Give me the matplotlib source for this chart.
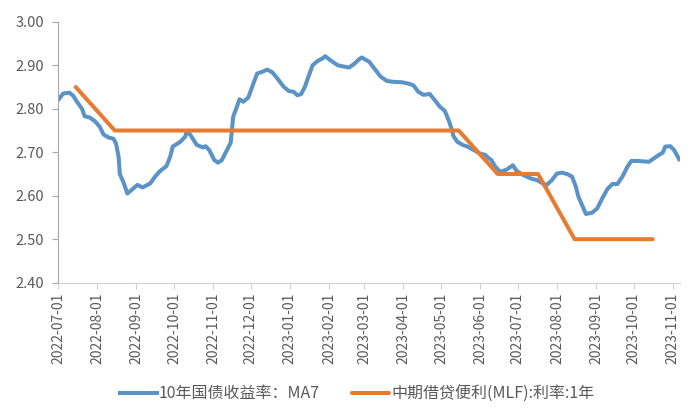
import matplotlib
matplotlib.use("Agg")
import matplotlib.pyplot as plt
import matplotlib.dates as mdates
import pandas as pd

plt.rcParams['font.family'] = ['Noto Sans CJK SC', 'DejaVu Sans']

# 10年国债收益率 MA7
bond_dates = [
    "2022-07-01", "2022-07-05", "2022-07-10", "2022-07-13", "2022-07-16", "2022-07-20",
    "2022-07-22", "2022-07-26", "2022-07-30", "2022-08-03", "2022-08-06", "2022-08-10",
    "2022-08-14", "2022-08-16", "2022-08-18", "2022-08-19", "2022-08-22", "2022-08-25",
    "2022-08-29", "2022-09-02", "2022-09-06", "2022-09-12", "2022-09-16", "2022-09-20",
    "2022-09-25", "2022-09-28", "2022-09-30", "2022-10-06", "2022-10-10", "2022-10-11",
    "2022-10-14", "2022-10-19", "2022-10-24", "2022-10-26", "2022-10-29", "2022-11-02",
    "2022-11-05", "2022-11-08", "2022-11-12", "2022-11-15", "2022-11-16", "2022-11-17",
    "2022-11-20", "2022-11-22", "2022-11-25", "2022-11-29", "2022-12-03", "2022-12-06",
    "2022-12-10", "2022-12-14", "2022-12-18", "2022-12-22", "2022-12-27", "2022-12-31",
    "2023-01-04", "2023-01-07", "2023-01-10", "2023-01-13", "2023-01-15", "2023-01-19",
    "2023-01-23", "2023-01-27", "2023-01-29", "2023-02-02", "2023-02-08", "2023-02-13",
    "2023-02-17", "2023-02-21", "2023-02-25", "2023-02-27", "2023-03-05", "2023-03-09",
    "2023-03-14", "2023-03-19", "2023-03-24", "2023-03-31", "2023-04-05", "2023-04-09",
    "2023-04-13", "2023-04-17", "2023-04-22", "2023-04-26", "2023-04-30", "2023-05-04",
    "2023-05-07", "2023-05-09", "2023-05-11", "2023-05-14", "2023-05-18", "2023-05-22",
    "2023-05-27", "2023-06-01", "2023-06-05", "2023-06-08", "2023-06-10", "2023-06-13",
    "2023-06-17", "2023-06-22", "2023-06-27", "2023-06-30", "2023-07-05", "2023-07-11",
    "2023-07-16", "2023-07-21", "2023-07-24", "2023-07-28", "2023-08-01", "2023-08-05",
    "2023-08-09", "2023-08-13", "2023-08-16", "2023-08-18", "2023-08-22", "2023-08-24",
    "2023-08-29", "2023-09-02", "2023-09-06", "2023-09-10", "2023-09-14", "2023-09-18",
    "2023-09-22", "2023-09-26", "2023-09-29", "2023-10-04", "2023-10-09", "2023-10-13",
    "2023-10-17", "2023-10-21", "2023-10-24", "2023-10-26", "2023-10-30", "2023-11-02",
    "2023-11-06",
]
bond_yield = [
    2.820, 2.835, 2.837, 2.830, 2.816, 2.800,
    2.783, 2.780, 2.772, 2.759, 2.741, 2.734,
    2.731, 2.720, 2.690, 2.650, 2.630, 2.605,
    2.615, 2.625, 2.619, 2.628, 2.644, 2.657,
    2.668, 2.690, 2.713, 2.724, 2.736, 2.749,
    2.740, 2.717, 2.711, 2.714, 2.705, 2.682,
    2.676, 2.682, 2.705, 2.722, 2.751, 2.782,
    2.805, 2.822, 2.816, 2.826, 2.858, 2.881,
    2.885, 2.890, 2.884, 2.870, 2.851, 2.841,
    2.839, 2.831, 2.834, 2.851, 2.868, 2.900,
    2.910, 2.916, 2.921, 2.912, 2.900, 2.897,
    2.895, 2.903, 2.914, 2.918, 2.908, 2.893,
    2.874, 2.864, 2.862, 2.861, 2.858, 2.854,
    2.839, 2.832, 2.834, 2.820, 2.805, 2.795,
    2.774, 2.757, 2.736, 2.724, 2.717, 2.713,
    2.705, 2.697, 2.694, 2.686, 2.682, 2.667,
    2.655, 2.660, 2.670, 2.657, 2.648, 2.640,
    2.636, 2.628, 2.625, 2.636, 2.651, 2.653,
    2.650, 2.644, 2.621, 2.598, 2.571, 2.558,
    2.561, 2.571, 2.594, 2.615, 2.627, 2.627,
    2.644, 2.667, 2.680, 2.680, 2.679, 2.678,
    2.686, 2.694, 2.699, 2.713, 2.714, 2.705,
    2.684,
]

# 中期借贷便利(MLF) 1年 利率
mlf_dates = [
    "2022-07-15", "2022-08-15", "2022-09-15", "2022-10-17", "2022-11-15", "2022-12-15",
    "2023-01-17", "2023-02-15", "2023-03-15", "2023-04-17", "2023-05-15", "2023-06-15",
    "2023-07-17", "2023-08-15", "2023-09-15", "2023-10-16",
]
mlf_rate = [2.85, 2.75, 2.75, 2.75, 2.75, 2.75, 2.75, 2.75, 2.75, 2.75, 2.75,
            2.65, 2.65, 2.50, 2.50, 2.50]

tick_dates = pd.date_range("2022-07-01", "2023-11-01", freq="MS")

fig = plt.figure(figsize=(7, 4.2), dpi=100)
ax = fig.add_axes([0.083, 0.327, 0.889, 0.621])

ax.plot(pd.to_datetime(bond_dates), bond_yield, color="#5b93c7", lw=2.9,
        solid_joinstyle="round", label="10年国债收益率：MA7")
ax.plot(pd.to_datetime(mlf_dates), mlf_rate, color="#e67c32", lw=2.9,
        solid_capstyle="round", label="中期借贷便利(MLF):利率:1年")

ax.set_ylim(2.40, 3.00)
ax.set_yticks([2.40, 2.50, 2.60, 2.70, 2.80, 2.90, 3.00])
ax.yaxis.set_major_formatter(matplotlib.ticker.FormatStrFormatter("%.2f"))
ax.set_xlim(pd.Timestamp("2022-07-01"), pd.Timestamp("2023-11-07"))
ax.set_xticks(tick_dates)
ax.xaxis.set_major_formatter(mdates.DateFormatter("%Y-%m-%d"))

for side in ["top", "right"]:
    ax.spines[side].set_visible(False)
ax.spines["left"].set_color("#a6a6a6")
ax.spines["bottom"].set_color("#d0d0d0")
ax.tick_params(axis="y", colors="#a6a6a6", labelcolor="#595959", labelsize=10.5,
               length=4, pad=6)
ax.tick_params(axis="x", colors="#d0d0d0", labelcolor="#595959", labelsize=10,
               length=4, labelrotation=90, pad=3)

ax.legend(loc="center", bbox_to_anchor=(0.51, 0.062), bbox_transform=fig.transFigure,
          ncol=2, frameon=False, fontsize=11.5, handlelength=2.3, columnspacing=2.0,
          handletextpad=0.15, labelcolor="#595959")

fig.savefig("out.png", dpi=100)
